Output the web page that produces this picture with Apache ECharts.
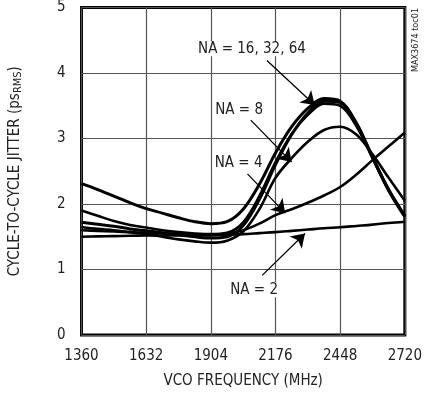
<!DOCTYPE html>
<html>
<head>
<meta charset="utf-8">
<script src="https://cdn.jsdelivr.net/npm/echarts@6/dist/echarts.min.js"></script>
<style>
html,body{margin:0;padding:0;background:#fff;}
#c{width:425px;height:396px;}
</style>
</head>
<body>
<div id="c"></div>
<script>
const freq = [1360,1428,1496,1564,1632,1700,1768,1836,1904,1972,2040,2108,2176,2244,2312,2380,2448,2516,2584,2652,2720];
const xTicks = [1360,1632,1904,2176,2448,2720];
const yTicks = [0,1,2,3,4,5];
const na2  = [1.50,1.505,1.51,1.515,1.52,1.52,1.52,1.52,1.52,1.53,1.54,1.555,1.57,1.59,1.61,1.63,1.645,1.665,1.685,1.71,1.73];
const na4  = [1.60,1.59,1.58,1.57,1.56,1.55,1.54,1.53,1.53,1.55,1.60,1.70,1.83,1.92,2.02,2.13,2.26,2.45,2.67,2.88,3.09];
const na8  = [1.65,1.62,1.60,1.57,1.54,1.50,1.46,1.43,1.41,1.44,1.58,1.92,2.40,2.70,2.95,3.13,3.18,3.06,2.76,2.40,2.05];
const na16 = [2.31,2.22,2.12,2.02,1.93,1.86,1.79,1.73,1.70,1.73,1.92,2.30,2.78,3.18,3.46,3.61,3.57,3.24,2.72,2.22,1.82];
const na32 = [1.90,1.82,1.74,1.68,1.64,1.60,1.57,1.55,1.54,1.56,1.72,2.12,2.64,3.07,3.36,3.53,3.50,3.19,2.70,2.20,1.80];
const na64 = [1.72,1.69,1.66,1.62,1.59,1.56,1.53,1.50,1.48,1.50,1.67,2.07,2.60,3.06,3.39,3.57,3.55,3.22,2.71,2.21,1.81];
// annotations: [label, labelF, labelV, arrowStartF, arrowStartV, arrowEndF, arrowEndV]
const notes = [
  ['NA = 16, 32, 64', 2077, 4.37, 2140, 4.19, 2341, 3.51],
  ['NA = 8',          2023, 3.44, 2072, 3.28, 2244, 2.64],
  ['NA = 4',          2021, 2.63, 2058, 2.46, 2217, 1.86],
  ['NA = 2',          2086, 0.69, 2120, 0.91, 2300, 1.55]
];

const FONT = '"DejaVu Sans Condensed","Liberation Sans Narrow",sans-serif';
const chart = echarts.init(document.getElementById('c'));
const zip = arr => freq.map((f,i)=>[f,arr[i]]);
function lineSeries(name, arr, w){
  return {name, type:'line', data: zip(arr), smooth:0.35, symbol:'none',
    lineStyle:{color:'#000', width:w}, z:3, silent:true};
}
chart.setOption({
  animation:false,
  grid:{left:80,right:17,top:7,bottom:61,show:true,borderColor:'#000',borderWidth:3,backgroundColor:'transparent'},
  xAxis:{type:'value',min:1360,max:2720,interval:272,
    axisLine:{show:false},axisTick:{show:false},
    splitLine:{show:true,lineStyle:{color:'#555',width:1.2}},
    axisLabel:{fontFamily:FONT,fontSize:15,color:'#222',margin:14,
      customValues: xTicks, formatter: v=>String(v)},
    name:'VCO FREQUENCY (MHz)',nameLocation:'middle',nameGap:39,
    nameTextStyle:{fontFamily:FONT,fontSize:15,color:'#222'}},
  yAxis:{type:'value',min:0,max:5,interval:1,
    axisLine:{show:false},axisTick:{show:false},
    splitLine:{show:true,lineStyle:{color:'#555',width:1.2}},
    axisLabel:{fontFamily:FONT,fontSize:15,color:'#222',margin:16},
    name:'CYCLE-TO-CYCLE JITTER (ps{s|RMS})',nameLocation:'middle',nameGap:58,nameRotate:90,
    nameTextStyle:{fontFamily:FONT,fontSize:15,color:'#222',
      rich:{s:{fontFamily:FONT,fontSize:11,color:'#222',verticalAlign:'bottom',padding:[5,0,0,0]}}}},
  series:[
    lineSeries('NA=2',na2,2.6),
    lineSeries('NA=4',na4,2.6),
    lineSeries('NA=8',na8,2.6),
    lineSeries('NA=16',na16,3),
    lineSeries('NA=32',na32,2.6),
    lineSeries('NA=64',na64,3),
    {type:'line',data:[],silent:true,z:5,
     markLine:{silent:true,symbol:['none','arrow'],symbolSize:13,
       itemStyle:{color:'#000'},
       lineStyle:{color:'#000',width:1.3,type:'solid'},label:{show:false},
       data: notes.map(n=>[{coord:[n[3],n[4]]},{coord:[n[5],n[6]]}])}}
  ]
});
const g = notes.map(n=>{
  const p = chart.convertToPixel({gridIndex:0},[n[1],n[2]]);
  return {type:'text',x:p[0],y:p[1],z:10,
    style:{text:n[0],font:'15px '+FONT,fill:'#222',align:'center',verticalAlign:'middle',
      backgroundColor:'#fff',padding:[0,2]}};
});
g.push({type:'text',x:416,y:40,rotation:Math.PI/2,z:10,
  style:{text:'MAX3674 toc01',font:'9px '+FONT,fill:'#222',align:'center',verticalAlign:'middle'}});
chart.setOption({graphic:g});
</script>
</body>
</html>
